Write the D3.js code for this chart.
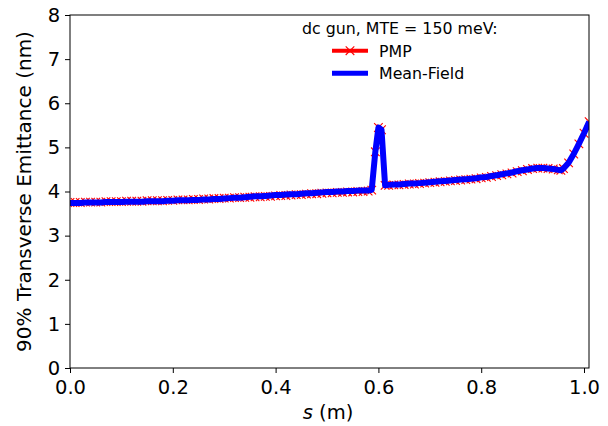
<!DOCTYPE html>
<html><head><meta charset="utf-8">
<script src="https://cdn.jsdelivr.net/npm/d3@7"></script>
<style>body{margin:0;background:#fff}svg{display:block;font-family:"DejaVu Sans",sans-serif}</style>
</head><body><svg id="c" width="608" height="426"></svg>
<script>
const sPos = [0.00,0.01,0.02,0.03,0.04,0.05,0.06,0.07,0.08,0.09,0.10,0.11,0.12,0.13,0.14,0.15,0.16,0.17,0.18,0.19,0.20,0.21,0.22,0.23,0.24,0.25,0.26,0.27,0.28,0.29,0.30,0.31,0.32,0.33,0.34,0.35,0.36,0.37,0.38,0.39,0.40,0.41,0.42,0.43,0.44,0.45,0.46,0.47,0.48,0.49,0.50,0.51,0.52,0.53,0.54,0.55,0.56,0.57,0.58,0.587,0.594,0.600,0.606,0.613,0.62,0.63,0.64,0.65,0.66,0.67,0.68,0.69,0.70,0.71,0.72,0.73,0.74,0.75,0.76,0.77,0.78,0.79,0.80,0.81,0.82,0.83,0.84,0.85,0.86,0.87,0.88,0.89,0.90,0.91,0.92,0.93,0.94,0.95,0.955,0.96,0.97,0.98,0.99,1.00,1.01];
const pmp = [3.75,3.75,3.75,3.76,3.76,3.76,3.76,3.77,3.77,3.77,3.77,3.78,3.78,3.78,3.78,3.79,3.79,3.79,3.79,3.80,3.80,3.81,3.81,3.81,3.82,3.82,3.83,3.83,3.84,3.84,3.85,3.85,3.86,3.86,3.87,3.87,3.88,3.88,3.89,3.89,3.90,3.91,3.91,3.92,3.93,3.93,3.94,3.95,3.95,3.96,3.97,3.97,3.98,3.98,3.99,3.99,4.00,4.00,4.01,4.03,4.90,5.45,5.40,4.14,4.14,4.15,4.15,4.16,4.17,4.17,4.18,4.19,4.20,4.21,4.22,4.23,4.24,4.25,4.26,4.27,4.28,4.29,4.31,4.32,4.34,4.36,4.38,4.40,4.42,4.45,4.47,4.50,4.52,4.53,4.53,4.52,4.51,4.49,4.48,4.52,4.65,4.85,5.08,5.32,5.58];
const meanField = [3.74,3.74,3.74,3.75,3.75,3.75,3.75,3.76,3.76,3.76,3.76,3.77,3.77,3.77,3.77,3.78,3.78,3.78,3.78,3.79,3.79,3.80,3.80,3.80,3.81,3.81,3.82,3.82,3.83,3.83,3.84,3.85,3.86,3.86,3.87,3.88,3.89,3.89,3.90,3.91,3.92,3.92,3.93,3.94,3.94,3.95,3.96,3.96,3.97,3.98,3.99,3.99,4.00,4.00,4.01,4.01,4.02,4.02,4.02,4.04,4.90,5.45,5.40,4.14,4.15,4.16,4.16,4.17,4.18,4.18,4.19,4.20,4.21,4.22,4.23,4.24,4.25,4.26,4.27,4.28,4.29,4.30,4.32,4.33,4.35,4.37,4.39,4.41,4.43,4.46,4.48,4.50,4.52,4.53,4.53,4.52,4.51,4.49,4.48,4.52,4.65,4.85,5.08,5.32,5.58];
const xTicks = [0.0,0.2,0.4,0.6,0.8,1.0];
const yTicks = [0,1,2,3,4,5,6,7,8];
const legendTitle = "dc gun, MTE = 150 meV:";
const seriesNames = ["PMP","Mean-Field"];

const svg = d3.select("#c");
const L=70,R=589,T=15,B=368;
const x = d3.scaleLinear().domain([0,1.0097]).range([L,R]);
const y = d3.scaleLinear().domain([0,8]).range([B,T]);

const gx = svg.append("g").attr("transform",`translate(0,${B})`)
  .call(d3.axisBottom(x).tickValues(xTicks).tickFormat(d3.format(".1f")).tickSize(5).tickSizeOuter(0));
gx.selectAll("text").attr("font-size",19.5).attr("dy","0.9em").attr("font-family","DejaVu Sans");
const gy = svg.append("g").attr("transform",`translate(${L},0)`)
  .call(d3.axisLeft(y).tickValues(yTicks).tickFormat(d3.format("d")).tickSize(5).tickSizeOuter(0));
gy.selectAll("text").attr("font-size",19.5).attr("dx","-0.1em").attr("font-family","DejaVu Sans");
svg.selectAll(".domain").remove();
svg.selectAll(".tick line").attr("stroke","#000").attr("stroke-width",1);
svg.selectAll(".tick text").attr("fill","#000");

const data = sPos.map((s,i)=>({s,p:pmp[i],m:meanField[i]}));
svg.append("clipPath").attr("id","cl").append("rect").attr("x",L).attr("y",T).attr("width",R-L).attr("height",B-T);
const plot = svg.append("g").attr("clip-path","url(#cl)");
const lineP = d3.line().x(d=>x(d.s)).y(d=>y(d.p));
const lineM = d3.line().x(d=>x(d.s)).y(d=>y(d.m));
plot.append("path").datum(data).attr("d",lineP).attr("fill","none").attr("stroke","red").attr("stroke-width",4);
const mk = 4.3;
const xMark = (cx,cy)=>`M${cx-mk},${cy-mk}L${cx+mk},${cy+mk}M${cx-mk},${cy+mk}L${cx+mk},${cy-mk}`;
plot.selectAll("path.mk").data(data).enter().append("path").attr("class","mk")
  .attr("d",d=>xMark(x(d.s),y(d.p)))
  .attr("stroke","red").attr("stroke-width",1.1);
plot.append("path").datum(data).attr("d",lineM).attr("fill","none").attr("stroke","blue").attr("stroke-width",6).attr("stroke-linejoin","round");

svg.append("rect").attr("x",L).attr("y",T).attr("width",R-L).attr("height",B-T).attr("fill","none").attr("stroke","#000").attr("stroke-width",1);

// legend
svg.append("text").attr("x",302).attr("y",33.5).attr("font-size",15.8).text(legendTitle);
const lg = svg.append("g");
lg.append("line").attr("x1",332).attr("x2",368).attr("y1",50.7).attr("y2",50.7).attr("stroke","red").attr("stroke-width",4);
lg.append("path").attr("d",xMark(350,50.7)).attr("stroke","red").attr("stroke-width",1.1);
lg.append("text").attr("x",379).attr("y",56.5).attr("font-size",15.8).text(seriesNames[0]);
lg.append("line").attr("x1",332).attr("x2",368).attr("y1",73.3).attr("y2",73.3).attr("stroke","blue").attr("stroke-width",5);
lg.append("text").attr("x",379).attr("y",79).attr("font-size",15.8).text(seriesNames[1]);

// axis labels
const xl = svg.append("text").attr("x",328).attr("y",419).attr("text-anchor","middle").attr("font-size",19.5);
xl.append("tspan").attr("font-style","italic").text("s");
xl.append("tspan").text(" (m)");
svg.append("text").attr("transform",`translate(31,${(T+B)/2}) rotate(-90)`).attr("text-anchor","middle").attr("font-size",20).text("90% Transverse Emittance (nm)");
</script></body></html>
